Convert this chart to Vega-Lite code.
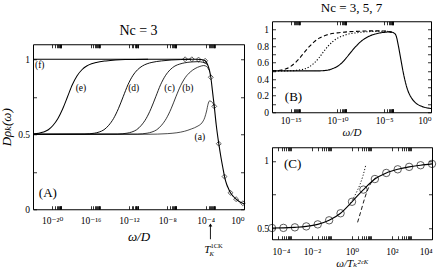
{
  "$schema": "https://vega.github.io/schema/vega-lite/v6.json",
  "background": "white",
  "padding": {"left": 0, "top": 1, "right": 0, "bottom": 0},
  "config": {
    "view": {"stroke": "black", "strokeWidth": 1},
    "axis": {"domain": false, "grid": false, "tickColor": "black", "tickSize": -3.5, "tickWidth": 0.8,
      "labelColor": "black", "labelFont": "Liberation Serif, DejaVu Serif", "labelFontSize": 9.5, "labelPadding": 7,
      "titleFont": "Liberation Serif, DejaVu Serif", "titleFontStyle": "italic", "titleFontWeight": "normal", "titleColor": "black"},
    "title": {"font": "Liberation Serif, DejaVu Serif", "fontWeight": "normal", "color": "black"},
    "text": {"font": "Liberation Serif, DejaVu Serif", "color": "black"}
  },
  "datasets": {
    "A_curves": [
      {"curve": "f", "log10_omega": -22, "D_rho": 1.0}, {"curve": "f", "log10_omega": -18, "D_rho": 1.0}, {"curve": "f", "log10_omega": -14, "D_rho": 1.0}, {"curve": "f", "log10_omega": -10, "D_rho": 1.0}, {"curve": "f", "log10_omega": -6, "D_rho": 1.0}, {"curve": "f", "log10_omega": -5, "D_rho": 1.0}, {"curve": "f", "log10_omega": -4.5, "D_rho": 0.998}, {"curve": "f", "log10_omega": -4.2, "D_rho": 0.994}, {"curve": "f", "log10_omega": -4.05, "D_rho": 0.99}, {"curve": "f", "log10_omega": -3.8, "D_rho": 0.965}, {"curve": "f", "log10_omega": -3.6, "D_rho": 0.925}, {"curve": "f", "log10_omega": -3.46, "D_rho": 0.88}, {"curve": "f", "log10_omega": -3.3, "D_rho": 0.795}, {"curve": "f", "log10_omega": -3.2, "D_rho": 0.74}, {"curve": "f", "log10_omega": -3.1, "D_rho": 0.686}, {"curve": "f", "log10_omega": -2.9, "D_rho": 0.565}, {"curve": "f", "log10_omega": -2.63, "D_rho": 0.437}, {"curve": "f", "log10_omega": -2.4, "D_rho": 0.345}, {"curve": "f", "log10_omega": -2.2, "D_rho": 0.275}, {"curve": "f", "log10_omega": -2.03, "D_rho": 0.218}, {"curve": "f", "log10_omega": -1.8, "D_rho": 0.165}, {"curve": "f", "log10_omega": -1.6, "D_rho": 0.135}, {"curve": "f", "log10_omega": -1.41, "D_rho": 0.11}, {"curve": "f", "log10_omega": -1.1, "D_rho": 0.085}, {"curve": "f", "log10_omega": -0.82, "D_rho": 0.067}, {"curve": "f", "log10_omega": -0.5, "D_rho": 0.052}, {"curve": "f", "log10_omega": -0.125, "D_rho": 0.04}, {"curve": "f", "log10_omega": 0, "D_rho": 0.037},
      {"curve": "a", "log10_omega": -22, "D_rho": 0.5}, {"curve": "a", "log10_omega": -10, "D_rho": 0.5}, {"curve": "a", "log10_omega": -9, "D_rho": 0.501}, {"curve": "a", "log10_omega": -8, "D_rho": 0.504}, {"curve": "a", "log10_omega": -7, "D_rho": 0.51}, {"curve": "a", "log10_omega": -6.2, "D_rho": 0.52}, {"curve": "a", "log10_omega": -5.5, "D_rho": 0.535}, {"curve": "a", "log10_omega": -4.8, "D_rho": 0.555}, {"curve": "a", "log10_omega": -4.4, "D_rho": 0.575}, {"curve": "a", "log10_omega": -4.1, "D_rho": 0.61}, {"curve": "a", "log10_omega": -3.9, "D_rho": 0.655}, {"curve": "a", "log10_omega": -3.75, "D_rho": 0.7}, {"curve": "a", "log10_omega": -3.6, "D_rho": 0.722}, {"curve": "a", "log10_omega": -3.45, "D_rho": 0.72}, {"curve": "a", "log10_omega": -3.3, "D_rho": 0.712}, {"curve": "a", "log10_omega": -3.18, "D_rho": 0.7}, {"curve": "a", "log10_omega": -3.1, "D_rho": 0.686},
      {"curve": "b", "log10_omega": -22, "D_rho": 0.5}, {"curve": "b", "log10_omega": -11.1, "D_rho": 0.501}, {"curve": "b", "log10_omega": -10.6, "D_rho": 0.503}, {"curve": "b", "log10_omega": -10.1, "D_rho": 0.507}, {"curve": "b", "log10_omega": -9.6, "D_rho": 0.515}, {"curve": "b", "log10_omega": -9.1, "D_rho": 0.53}, {"curve": "b", "log10_omega": -8.6, "D_rho": 0.56}, {"curve": "b", "log10_omega": -8.1, "D_rho": 0.605}, {"curve": "b", "log10_omega": -7.6, "D_rho": 0.67}, {"curve": "b", "log10_omega": -7.1, "D_rho": 0.75}, {"curve": "b", "log10_omega": -6.6, "D_rho": 0.825}, {"curve": "b", "log10_omega": -6.1, "D_rho": 0.88}, {"curve": "b", "log10_omega": -5.6, "D_rho": 0.915}, {"curve": "b", "log10_omega": -5.1, "D_rho": 0.938}, {"curve": "b", "log10_omega": -4.6, "D_rho": 0.952}, {"curve": "b", "log10_omega": -4.2, "D_rho": 0.958}, {"curve": "b", "log10_omega": -3.9, "D_rho": 0.952}, {"curve": "b", "log10_omega": -3.7, "D_rho": 0.935}, {"curve": "b", "log10_omega": -3.6, "D_rho": 0.925},
      {"curve": "c", "log10_omega": -22, "D_rho": 0.5}, {"curve": "c", "log10_omega": -13.2, "D_rho": 0.501}, {"curve": "c", "log10_omega": -12.7, "D_rho": 0.503}, {"curve": "c", "log10_omega": -12.2, "D_rho": 0.507}, {"curve": "c", "log10_omega": -11.7, "D_rho": 0.515}, {"curve": "c", "log10_omega": -11.2, "D_rho": 0.53}, {"curve": "c", "log10_omega": -10.7, "D_rho": 0.56}, {"curve": "c", "log10_omega": -10.2, "D_rho": 0.605}, {"curve": "c", "log10_omega": -9.7, "D_rho": 0.67}, {"curve": "c", "log10_omega": -9.2, "D_rho": 0.75}, {"curve": "c", "log10_omega": -8.7, "D_rho": 0.83}, {"curve": "c", "log10_omega": -8.2, "D_rho": 0.89}, {"curve": "c", "log10_omega": -7.7, "D_rho": 0.93}, {"curve": "c", "log10_omega": -7.2, "D_rho": 0.955}, {"curve": "c", "log10_omega": -6.7, "D_rho": 0.968}, {"curve": "c", "log10_omega": -6.2, "D_rho": 0.976}, {"curve": "c", "log10_omega": -5.5, "D_rho": 0.982}, {"curve": "c", "log10_omega": -4.8, "D_rho": 0.984}, {"curve": "c", "log10_omega": -4.3, "D_rho": 0.98}, {"curve": "c", "log10_omega": -4.0, "D_rho": 0.972}, {"curve": "c", "log10_omega": -3.8, "D_rho": 0.965},
      {"curve": "d", "log10_omega": -22, "D_rho": 0.5}, {"curve": "d", "log10_omega": -16.6, "D_rho": 0.501}, {"curve": "d", "log10_omega": -16.1, "D_rho": 0.503}, {"curve": "d", "log10_omega": -15.6, "D_rho": 0.507}, {"curve": "d", "log10_omega": -15.1, "D_rho": 0.515}, {"curve": "d", "log10_omega": -14.6, "D_rho": 0.53}, {"curve": "d", "log10_omega": -14.1, "D_rho": 0.56}, {"curve": "d", "log10_omega": -13.6, "D_rho": 0.605}, {"curve": "d", "log10_omega": -13.1, "D_rho": 0.67}, {"curve": "d", "log10_omega": -12.6, "D_rho": 0.75}, {"curve": "d", "log10_omega": -12.1, "D_rho": 0.83}, {"curve": "d", "log10_omega": -11.6, "D_rho": 0.89}, {"curve": "d", "log10_omega": -11.1, "D_rho": 0.93}, {"curve": "d", "log10_omega": -10.6, "D_rho": 0.955}, {"curve": "d", "log10_omega": -10.1, "D_rho": 0.97}, {"curve": "d", "log10_omega": -9.6, "D_rho": 0.979}, {"curve": "d", "log10_omega": -8.6, "D_rho": 0.989}, {"curve": "d", "log10_omega": -7.6, "D_rho": 0.995}, {"curve": "d", "log10_omega": -6.6, "D_rho": 0.998}, {"curve": "d", "log10_omega": -5.5, "D_rho": 1.0},
      {"curve": "e", "log10_omega": -22, "D_rho": 0.502}, {"curve": "e", "log10_omega": -21.4, "D_rho": 0.507}, {"curve": "e", "log10_omega": -20.9, "D_rho": 0.515}, {"curve": "e", "log10_omega": -20.4, "D_rho": 0.53}, {"curve": "e", "log10_omega": -19.9, "D_rho": 0.56}, {"curve": "e", "log10_omega": -19.4, "D_rho": 0.605}, {"curve": "e", "log10_omega": -18.9, "D_rho": 0.67}, {"curve": "e", "log10_omega": -18.4, "D_rho": 0.75}, {"curve": "e", "log10_omega": -17.9, "D_rho": 0.83}, {"curve": "e", "log10_omega": -17.4, "D_rho": 0.89}, {"curve": "e", "log10_omega": -16.9, "D_rho": 0.93}, {"curve": "e", "log10_omega": -16.4, "D_rho": 0.955}, {"curve": "e", "log10_omega": -15.9, "D_rho": 0.97}, {"curve": "e", "log10_omega": -15.4, "D_rho": 0.979}, {"curve": "e", "log10_omega": -14.4, "D_rho": 0.989}, {"curve": "e", "log10_omega": -13.4, "D_rho": 0.995}, {"curve": "e", "log10_omega": -12.4, "D_rho": 0.998}, {"curve": "e", "log10_omega": -10, "D_rho": 1.0}
    ],
    "A_diamonds": [
      {"log10_omega": -6.14, "D_rho": 1.0}, {"log10_omega": -5.44, "D_rho": 1.0}, {"log10_omega": -4.74, "D_rho": 0.998}, {"log10_omega": -4.05, "D_rho": 0.99}, {"log10_omega": -3.46, "D_rho": 0.88}, {"log10_omega": -3.1, "D_rho": 0.686}, {"log10_omega": -2.63, "D_rho": 0.437}, {"log10_omega": -2.03, "D_rho": 0.218}, {"log10_omega": -1.41, "D_rho": 0.11}, {"log10_omega": -0.82, "D_rho": 0.067}, {"log10_omega": -0.125, "D_rho": 0.04}
    ],
    "A_labels": [
      {"label": "(f)", "log10_omega": -21.3, "D_rho": 0.965}, {"label": "(e)", "log10_omega": -17.0, "D_rho": 0.81}, {"label": "(d)", "log10_omega": -11.5, "D_rho": 0.81}, {"label": "(c)", "log10_omega": -7.76, "D_rho": 0.81}, {"label": "(b)", "log10_omega": -5.85, "D_rho": 0.81}, {"label": "(a)", "log10_omega": -4.6, "D_rho": 0.485}
    ],
    "A_panel": [{"label": "(A)", "log10_omega": -20.45, "D_rho": 0.107}],
    "A_arrow": [{"log10_omega": -3.5, "y_start": -0.105, "y_end": -0.2, "text_y": -0.27}],
    "B_curves": [
      {"series": "solid", "log10_omega": -17, "D_rho": 0.5}, {"series": "solid", "log10_omega": -12, "D_rho": 0.5}, {"series": "solid", "log10_omega": -11.5, "D_rho": 0.503}, {"series": "solid", "log10_omega": -11, "D_rho": 0.51}, {"series": "solid", "log10_omega": -10.5, "D_rho": 0.528}, {"series": "solid", "log10_omega": -10, "D_rho": 0.555}, {"series": "solid", "log10_omega": -9.5, "D_rho": 0.6}, {"series": "solid", "log10_omega": -9, "D_rho": 0.665}, {"series": "solid", "log10_omega": -8.5, "D_rho": 0.735}, {"series": "solid", "log10_omega": -8, "D_rho": 0.8}, {"series": "solid", "log10_omega": -7.5, "D_rho": 0.855}, {"series": "solid", "log10_omega": -7, "D_rho": 0.895}, {"series": "solid", "log10_omega": -6.5, "D_rho": 0.925}, {"series": "solid", "log10_omega": -6, "D_rho": 0.945}, {"series": "solid", "log10_omega": -5.5, "D_rho": 0.958}, {"series": "solid", "log10_omega": -5, "D_rho": 0.966}, {"series": "solid", "log10_omega": -4.5, "D_rho": 0.97}, {"series": "solid", "log10_omega": -4.2, "D_rho": 0.968}, {"series": "solid", "log10_omega": -4, "D_rho": 0.96}, {"series": "solid", "log10_omega": -3.75, "D_rho": 0.93}, {"series": "solid", "log10_omega": -3.5, "D_rho": 0.81}, {"series": "solid", "log10_omega": -3.25, "D_rho": 0.655}, {"series": "solid", "log10_omega": -3, "D_rho": 0.5}, {"series": "solid", "log10_omega": -2.75, "D_rho": 0.37}, {"series": "solid", "log10_omega": -2.5, "D_rho": 0.27}, {"series": "solid", "log10_omega": -2.25, "D_rho": 0.205}, {"series": "solid", "log10_omega": -2, "D_rho": 0.158}, {"series": "solid", "log10_omega": -1.5, "D_rho": 0.1}, {"series": "solid", "log10_omega": -1, "D_rho": 0.072}, {"series": "solid", "log10_omega": -0.5, "D_rho": 0.055}, {"series": "solid", "log10_omega": 0, "D_rho": 0.045},
      {"series": "dashed", "log10_omega": -17, "D_rho": 0.5}, {"series": "dashed", "log10_omega": -16.5, "D_rho": 0.503}, {"series": "dashed", "log10_omega": -16, "D_rho": 0.51}, {"series": "dashed", "log10_omega": -15.5, "D_rho": 0.525}, {"series": "dashed", "log10_omega": -15, "D_rho": 0.555}, {"series": "dashed", "log10_omega": -14.5, "D_rho": 0.6}, {"series": "dashed", "log10_omega": -14, "D_rho": 0.66}, {"series": "dashed", "log10_omega": -13.5, "D_rho": 0.73}, {"series": "dashed", "log10_omega": -13, "D_rho": 0.795}, {"series": "dashed", "log10_omega": -12.5, "D_rho": 0.85}, {"series": "dashed", "log10_omega": -12, "D_rho": 0.893}, {"series": "dashed", "log10_omega": -11.5, "D_rho": 0.92}, {"series": "dashed", "log10_omega": -11, "D_rho": 0.94}, {"series": "dashed", "log10_omega": -10, "D_rho": 0.96}, {"series": "dashed", "log10_omega": -9, "D_rho": 0.972}, {"series": "dashed", "log10_omega": -8, "D_rho": 0.978}, {"series": "dashed", "log10_omega": -7, "D_rho": 0.982}, {"series": "dashed", "log10_omega": -6, "D_rho": 0.984}, {"series": "dashed", "log10_omega": -5, "D_rho": 0.982}, {"series": "dashed", "log10_omega": -4.5, "D_rho": 0.975}, {"series": "dashed", "log10_omega": -4.2, "D_rho": 0.968},
      {"series": "dotted", "log10_omega": -17, "D_rho": 0.5}, {"series": "dotted", "log10_omega": -15, "D_rho": 0.501}, {"series": "dotted", "log10_omega": -14.5, "D_rho": 0.505}, {"series": "dotted", "log10_omega": -14, "D_rho": 0.512}, {"series": "dotted", "log10_omega": -13.5, "D_rho": 0.525}, {"series": "dotted", "log10_omega": -13, "D_rho": 0.55}, {"series": "dotted", "log10_omega": -12.5, "D_rho": 0.595}, {"series": "dotted", "log10_omega": -12, "D_rho": 0.655}, {"series": "dotted", "log10_omega": -11.5, "D_rho": 0.73}, {"series": "dotted", "log10_omega": -11, "D_rho": 0.8}, {"series": "dotted", "log10_omega": -10.5, "D_rho": 0.855}, {"series": "dotted", "log10_omega": -10, "D_rho": 0.895}, {"series": "dotted", "log10_omega": -9.5, "D_rho": 0.92}, {"series": "dotted", "log10_omega": -9, "D_rho": 0.94}, {"series": "dotted", "log10_omega": -8, "D_rho": 0.96}, {"series": "dotted", "log10_omega": -7, "D_rho": 0.972}, {"series": "dotted", "log10_omega": -6, "D_rho": 0.978}, {"series": "dotted", "log10_omega": -5, "D_rho": 0.98}, {"series": "dotted", "log10_omega": -4.5, "D_rho": 0.975}, {"series": "dotted", "log10_omega": -4.2, "D_rho": 0.968}
    ],
    "B_panel": [{"label": "(B)", "log10_omega": -14.7, "D_rho": 0.184}],
    "C_circles": [
      {"log10_omega": -4, "D_rho": 0.503}, {"log10_omega": -3.429, "D_rho": 0.504}, {"log10_omega": -2.857, "D_rho": 0.508}, {"log10_omega": -2.286, "D_rho": 0.515}, {"log10_omega": -1.714, "D_rho": 0.53}, {"log10_omega": -1.143, "D_rho": 0.56}, {"log10_omega": -0.571, "D_rho": 0.612}, {"log10_omega": 0, "D_rho": 0.697}, {"log10_omega": 0.571, "D_rho": 0.787}, {"log10_omega": 1.143, "D_rho": 0.865}, {"log10_omega": 1.714, "D_rho": 0.91}, {"log10_omega": 2.286, "D_rho": 0.937}, {"log10_omega": 2.857, "D_rho": 0.955}, {"log10_omega": 3.429, "D_rho": 0.967}, {"log10_omega": 4, "D_rho": 0.977}
    ],
    "C_asym": [
      {"series": "dotted", "log10_omega": -0.15, "D_rho": 0.67}, {"series": "dotted", "log10_omega": 0.0, "D_rho": 0.705}, {"series": "dotted", "log10_omega": 0.2, "D_rho": 0.76}, {"series": "dotted", "log10_omega": 0.4, "D_rho": 0.825}, {"series": "dotted", "log10_omega": 0.55, "D_rho": 0.89}, {"series": "dotted", "log10_omega": 0.7, "D_rho": 0.975},
      {"series": "dashed", "log10_omega": 0.28, "D_rho": 0.545}, {"series": "dashed", "log10_omega": 0.45, "D_rho": 0.63}, {"series": "dashed", "log10_omega": 0.65, "D_rho": 0.73}, {"series": "dashed", "log10_omega": 0.87, "D_rho": 0.815}, {"series": "dashed", "log10_omega": 1.05, "D_rho": 0.855}, {"series": "dashed", "log10_omega": 1.2, "D_rho": 0.875}
    ],
    "C_panel": [{"label": "(C)", "log10_omega": -2.97, "D_rho": 0.975}]
  },
  "spacing": 8,
  "center": true,
  "hconcat": [
    {
      "width": 211,
      "height": 165,
      "title": {"text": "Nc = 3", "fontSize": 14, "offset": 6},
      "resolve": {"axis": {"x": "independent", "y": "independent"}},
      "layer": [
        {
          "data": {"name": "A_curves"},
          "mark": {"type": "line", "interpolate": "monotone", "color": "black"},
          "encoding": {
            "x": {"field": "log10_omega", "type": "quantitative", "scale": {"domain": [-22, 0], "nice": false, "zero": false},
              "axis": {"orient": "bottom", "title": "ω/D", "titleFontSize": 13, "titlePadding": 5, "labelPadding": 10,
                "values": [-20, -19.699, -19.523, -19.398, -19.301, -19.222, -19.155, -19.097, -19.046, -16, -15.699, -15.523, -15.398, -15.301, -15.222, -15.155, -15.097, -15.046, -12, -11.699, -11.523, -11.398, -11.301, -11.222, -11.155, -11.097, -11.046, -8, -7.699, -7.523, -7.398, -7.301, -7.222, -7.155, -7.097, -7.046, -4, -3.699, -3.523, -3.398, -3.301, -3.222, -3.155, -3.097, -3.046, 0],
                "labelExpr": "datum.value == 0 ? '10⁰' : datum.value == -4 ? '10⁻⁴' : datum.value == -8 ? '10⁻⁸' : datum.value == -12 ? '10⁻¹²' : datum.value == -16 ? '10⁻¹⁶' : datum.value == -20 ? '10⁻²⁰' : ''"}},
            "y": {"field": "D_rho", "type": "quantitative", "scale": {"domain": [0, 1.1], "nice": false, "zero": false},
              "axis": {"orient": "left", "title": "Dρₖ(ω)", "titleFontSize": 13, "titlePadding": 4,
                "values": [0, 0.25, 0.5, 0.75, 1],
                "labelExpr": "datum.value == 0 ? '0' : datum.value == 0.5 ? '0.5' : datum.value == 1 ? '1' : ''"}},
            "detail": {"field": "curve"},
            "strokeWidth": {"field": "curve", "type": "nominal", "scale": {"domain": ["a", "b", "c", "d", "e", "f"], "range": [0.7, 1.1, 1.1, 1.1, 1.1, 1.6]}, "legend": null}
          }
        },
        {
          "data": {"name": "A_curves"},
          "mark": {"type": "point", "opacity": 0},
          "encoding": {
            "x": {"field": "log10_omega", "type": "quantitative",
              "axis": {"orient": "top", "labels": false, "title": null,
                "values": [-20, -19.699, -19.523, -19.398, -19.301, -19.222, -19.155, -19.097, -19.046, -16, -15.699, -15.523, -15.398, -15.301, -15.222, -15.155, -15.097, -15.046, -12, -11.699, -11.523, -11.398, -11.301, -11.222, -11.155, -11.097, -11.046, -8, -7.699, -7.523, -7.398, -7.301, -7.222, -7.155, -7.097, -7.046, -4, -3.699, -3.523, -3.398, -3.301, -3.222, -3.155, -3.097, -3.046, 0]}},
            "y": {"field": "D_rho", "type": "quantitative", "axis": {"orient": "right", "labels": false, "title": null, "values": [0, 0.25, 0.5, 0.75, 1]}}
          }
        },
        {
          "data": {"name": "A_diamonds"},
          "mark": {"type": "point", "shape": "diamond", "filled": false, "color": "black", "size": 24, "strokeWidth": 0.9},
          "encoding": {
            "x": {"field": "log10_omega", "type": "quantitative", "axis": null},
            "y": {"field": "D_rho", "type": "quantitative", "axis": null}
          }
        },
        {
          "data": {"name": "A_labels"},
          "mark": {"type": "text", "fontSize": 9.5, "align": "center", "baseline": "middle"},
          "encoding": {
            "x": {"field": "log10_omega", "type": "quantitative", "axis": null},
            "y": {"field": "D_rho", "type": "quantitative", "axis": null},
            "text": {"field": "label"}
          }
        },
        {
          "data": {"name": "A_panel"},
          "mark": {"type": "text", "fontSize": 13, "align": "center", "baseline": "middle"},
          "encoding": {
            "x": {"field": "log10_omega", "type": "quantitative", "axis": null},
            "y": {"field": "D_rho", "type": "quantitative", "axis": null},
            "text": {"field": "label"}
          }
        },
        {
          "data": {"name": "A_arrow"},
          "mark": {"type": "rule", "color": "black", "strokeWidth": 0.9},
          "encoding": {
            "x": {"field": "log10_omega", "type": "quantitative", "axis": null},
            "y": {"field": "y_start", "type": "quantitative", "axis": null},
            "y2": {"field": "y_end"}
          }
        },
        {
          "data": {"name": "A_arrow"},
          "mark": {"type": "point", "shape": "triangle-up", "filled": true, "color": "black", "size": 14, "opacity": 1},
          "encoding": {
            "x": {"field": "log10_omega", "type": "quantitative", "axis": null},
            "y": {"field": "y_start", "type": "quantitative", "axis": null}
          }
        },
        {
          "data": {"name": "A_arrow"},
          "mark": {"type": "text", "fontSize": 11, "fontStyle": "italic", "align": "right", "baseline": "middle", "dx": 0},
          "encoding": {
            "x": {"field": "log10_omega", "type": "quantitative", "axis": null},
            "y": {"field": "text_y", "type": "quantitative", "axis": null},
            "text": {"value": "T"}
          }
        },
        {
          "data": {"name": "A_arrow"},
          "mark": {"type": "text", "fontSize": 6.5, "fontStyle": "italic", "align": "left", "baseline": "middle", "dx": -1, "dy": 4},
          "encoding": {
            "x": {"field": "log10_omega", "type": "quantitative", "axis": null},
            "y": {"field": "text_y", "type": "quantitative", "axis": null},
            "text": {"value": "K"}
          }
        },
        {
          "data": {"name": "A_arrow"},
          "mark": {"type": "text", "fontSize": 6.5, "align": "left", "baseline": "middle", "dx": 0, "dy": -4},
          "encoding": {
            "x": {"field": "log10_omega", "type": "quantitative", "axis": null},
            "y": {"field": "text_y", "type": "quantitative", "axis": null},
            "text": {"value": "1CK"}
          }
        }
      ]
    },
    {
      "spacing": 8,
      "vconcat": [
        {
          "width": 159,
          "height": 91,
          "title": {"text": "Nc = 3, 5, 7", "fontSize": 13, "offset": 6},
          "resolve": {"axis": {"x": "independent", "y": "independent"}},
          "layer": [
            {
              "data": {"name": "B_curves"},
              "mark": {"type": "line", "interpolate": "monotone", "color": "black", "strokeWidth": 1.1},
              "encoding": {
                "x": {"field": "log10_omega", "type": "quantitative", "scale": {"domain": [-17, 0], "nice": false, "zero": false},
                  "axis": {"orient": "bottom", "title": "ω/D", "titleFontSize": 11, "titlePadding": 1,
                    "values": [-15, -14.699, -14.523, -14.398, -14.301, -14.222, -14.155, -14.097, -14.046, -10, -9.699, -9.523, -9.398, -9.301, -9.222, -9.155, -9.097, -9.046, -5, -4.699, -4.523, -4.398, -4.301, -4.222, -4.155, -4.097, -4.046, 0],
                    "labelExpr": "datum.value == 0 ? '10⁰' : datum.value == -5 ? '10⁻⁵' : datum.value == -10 ? '10⁻¹⁰' : datum.value == -15 ? '10⁻¹⁵' : ''"}},
                "y": {"field": "D_rho", "type": "quantitative", "scale": {"domain": [0, 1.1], "nice": false, "zero": false},
                  "axis": {"orient": "left", "title": null,
                    "values": [0, 0.1, 0.2, 0.3, 0.4, 0.5, 0.6, 0.7, 0.8, 0.9, 1],
                    "labelExpr": "datum.value == 0 ? '0' : datum.value == 1 ? '1' : (round(datum.value * 10) % 2 == 0 ? format(datum.value, '.1f') : '')"}},
                "detail": {"field": "series"},
                "strokeDash": {"field": "series", "type": "nominal", "scale": {"domain": ["solid", "dashed", "dotted"], "range": [[1, 0], [4, 2.5], [1.2, 1.8]]}, "legend": null}
              }
            },
            {
              "data": {"name": "B_curves"},
              "mark": {"type": "point", "opacity": 0},
              "encoding": {
                "x": {"field": "log10_omega", "type": "quantitative",
                  "axis": {"orient": "top", "labels": false, "title": null,
                    "values": [-15, -14.699, -14.523, -14.398, -14.301, -14.222, -14.155, -14.097, -14.046, -10, -9.699, -9.523, -9.398, -9.301, -9.222, -9.155, -9.097, -9.046, -5, -4.699, -4.523, -4.398, -4.301, -4.222, -4.155, -4.097, -4.046, 0]}},
                "y": {"field": "D_rho", "type": "quantitative", "axis": {"orient": "right", "labels": false, "title": null, "values": [0, 0.1, 0.2, 0.3, 0.4, 0.5, 0.6, 0.7, 0.8, 0.9, 1]}}
              }
            },
            {
              "data": {"name": "B_panel"},
              "mark": {"type": "text", "fontSize": 13, "align": "center", "baseline": "middle"},
              "encoding": {
                "x": {"field": "log10_omega", "type": "quantitative", "axis": null},
                "y": {"field": "D_rho", "type": "quantitative", "axis": null},
                "text": {"field": "label"}
              }
            }
          ]
        },
        {
          "width": 160,
          "height": 92,
          "resolve": {"axis": {"x": "independent", "y": "independent"}},
          "layer": [
            {
              "data": {"name": "C_circles"},
              "mark": {"type": "line", "interpolate": "monotone", "color": "black", "strokeWidth": 1.1},
              "encoding": {
                "x": {"field": "log10_omega", "type": "quantitative", "scale": {"domain": [-4, 4], "nice": false, "zero": false},
                  "axis": {"orient": "bottom", "title": ["ω/Tₖ²ᶜᴷ", " "], "titleLineHeight": 12, "titleFontSize": 11, "titlePadding": 1, "labelPadding": 11,
                    "values": [-4, -3.699, -3.523, -3.398, -3.301, -3.222, -3.155, -3.097, -3.046, -2, -1.699, -1.523, -1.398, -1.301, -1.222, -1.155, -1.097, -1.046, 0, 0.301, 0.477, 0.602, 0.699, 0.778, 0.845, 0.903, 0.954, 2, 2.301, 2.477, 2.602, 2.699, 2.778, 2.845, 2.903, 2.954, 4],
                    "labelExpr": "datum.value == -4 ? '10⁻⁴' : datum.value == -2 ? '10⁻²' : datum.value == 0 ? '10⁰' : datum.value == 2 ? '10²' : datum.value == 4 ? '10⁴' : ''"}},
                "y": {"field": "D_rho", "type": "quantitative", "scale": {"domain": [0.42, 1.1], "nice": false, "zero": false},
                  "axis": {"orient": "left", "title": null, "values": [0.5, 0.75, 1],
                    "labelExpr": "datum.value == 0.5 ? '0.5' : datum.value == 1 ? '1' : ''"}}
              }
            },
            {
              "data": {"name": "C_circles"},
              "mark": {"type": "point", "shape": "circle", "filled": false, "color": "black", "size": 55, "strokeWidth": 0.9},
              "encoding": {
                "x": {"field": "log10_omega", "type": "quantitative",
                  "axis": {"orient": "top", "labels": false, "title": null,
                    "values": [-4, -3.699, -3.523, -3.398, -3.301, -3.222, -3.155, -3.097, -3.046, -2, -1.699, -1.523, -1.398, -1.301, -1.222, -1.155, -1.097, -1.046, 0, 0.301, 0.477, 0.602, 0.699, 0.778, 0.845, 0.903, 0.954, 2, 2.301, 2.477, 2.602, 2.699, 2.778, 2.845, 2.903, 2.954, 4]}},
                "y": {"field": "D_rho", "type": "quantitative", "axis": {"orient": "right", "labels": false, "title": null, "values": [0.5, 0.75, 1]}}
              }
            },
            {
              "data": {"name": "C_asym"},
              "mark": {"type": "line", "interpolate": "monotone", "color": "black", "strokeWidth": 0.9},
              "encoding": {
                "x": {"field": "log10_omega", "type": "quantitative", "axis": null},
                "y": {"field": "D_rho", "type": "quantitative", "axis": null},
                "detail": {"field": "series"},
                "strokeDash": {"field": "series", "type": "nominal", "scale": {"domain": ["dashed", "dotted"], "range": [[4, 2.5], [1.2, 1.8]]}, "legend": null}
              }
            },
            {
              "data": {"name": "C_panel"},
              "mark": {"type": "text", "fontSize": 13, "align": "center", "baseline": "middle"},
              "encoding": {
                "x": {"field": "log10_omega", "type": "quantitative", "axis": null},
                "y": {"field": "D_rho", "type": "quantitative", "axis": null},
                "text": {"field": "label"}
              }
            }
          ]
        }
      ]
    }
  ]
}
